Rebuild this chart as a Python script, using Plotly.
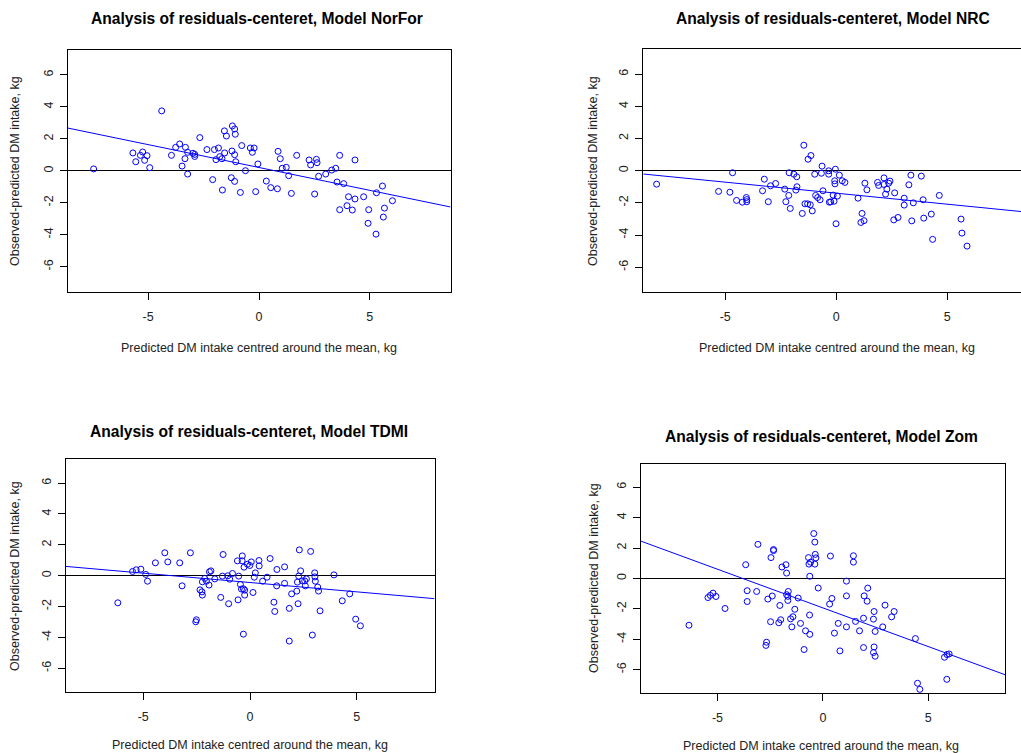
import plotly.graph_objects as go

# ---------------- data ----------------
titles = ["Analysis of residuals-centeret, Model NorFor",
          "Analysis of residuals-centeret, Model NRC",
          "Analysis of residuals-centeret, Model TDMI",
          "Analysis of residuals-centeret, Model Zom"]
x_label = "Predicted DM intake centred around the mean, kg"
y_label = "Observed-predicted DM intake, kg"

x_ticks = [-5, 0, 5]
x_tick_text = ["-5", "0", "5"]
y_ticks = [-6, -4, -2, 0, 2, 4, 6]
y_tick_text = ["-6", "-4", "-2", "0", "2", "4", "6"]

x_norfor = [-7.46, -4.39, -5.69, -5.56, -5.35, -5.25, -5.16, -5.05, -4.93, -3.95, -3.76, -3.58,
            -3.32, -3.47, -3.34, -3.22, -3.22, -2.98, -2.90, -2.90, -2.67, -2.35, -2.01, -1.83,
            -1.94, -1.77, -1.67, -1.55, -2.09, -1.65, -1.56, -1.47, -1.20, -1.10, -1.07, -1.22,
            -1.10, -1.05, -1.25, -1.10, -0.84, -0.78, -0.61, -0.39, -0.22, -0.30, -0.05, -0.15,
            0.86, 0.96, 1.05, 1.23, 1.34, 1.70, 0.33, 0.53, 0.83, 1.46, 2.26, 2.33, 2.59, 2.62,
            2.51, 2.69, 3.01, 3.28, 3.46, 3.64, 3.52, 3.82, 4.33, 4.04, 4.33, 4.72, 3.64, 3.97,
            4.21, 4.95, 4.92, 5.28, 5.30, 5.57, 6.02, 5.66, 5.61]
y_norfor = [0.12, 3.75, 1.12, 0.57, 0.97, 1.18, 0.66, 0.95, 0.20, 0.97, 1.47, 1.68,
            1.47, 0.30, 0.76, 1.16, -0.20, 1.10, 1.03, 0.90, 2.08, 1.33, 1.33, 1.43,
            0.70, 0.89, 0.76, 1.12, -0.55, -1.20, 2.50, 2.18, 2.81, 2.62, 2.29, 1.24,
            1.01, 0.57, -0.43, -0.66, -1.35, 1.58, 0.01, 1.43, 1.43, 1.16, 0.43, -1.30,
            1.22, 0.76, 0.16, 0.22, -0.30, 0.97, -0.64, -1.05, -1.12, -1.41, 0.68, 0.37, 0.72, 0.51,
            -1.45, -0.34, -0.20, 0.05, 0.16, 0.97, -0.70, -0.80, 0.68, -1.62, -1.76, -1.62, -2.43, -2.18,
            -2.45, -2.43, -3.28, -3.96, -1.37, -0.95, -1.87, -2.33, -2.89]

x_nrc = [-8.09, -4.67, -5.30, -4.79, -4.49, -4.23, -4.05, -4.03, -4.03, -3.24, -3.32, -3.06,
         -2.96, -2.73, -2.32, -2.27, -2.14, -2.07, -2.12, -1.91, -1.78, -1.82, -1.77, -1.53,
         -1.46, -1.27, -1.14, -1.41, -1.29, -1.17, -1.08, -0.97, -0.93, -0.84, -0.73, -0.64,
         -0.67, -0.60, -0.34, -0.34, -0.31, -0.25, -0.14, -0.07, -0.06, -0.04, -0.10, -0.01,
         0.05, 0.14, 0.27, 0.39, 0.98, 1.29, 1.38, 1.16, 1.11, 1.25, 1.86, 1.91, 2.15, 2.15,
         2.22, 2.28, 2.36, 2.42, 2.63, 2.59, 2.78, 3.06, 3.06, 3.27, 3.36, 3.47, 3.40, 3.83,
         3.91, 3.94, 4.28, 4.34, 4.64, 5.62, 5.66, 5.89]
y_nrc = [-0.84, -0.13, -1.29, -1.34, -1.85, -1.96, -1.67, -1.80, -1.93, -0.53, -1.25, -1.93,
         -0.94, -0.80, -1.15, -1.93, -1.54, -2.35, -0.13, -0.22, -0.38, -1.21, -1.00, -2.66,
         1.58, 0.71, 0.94, -2.06, -2.06, -2.12, -2.50, -0.22, -1.54, -1.67, -1.81, 0.28,
         -0.16, -1.25, -0.01, -0.22, -1.96, -1.94, -1.52, -0.63, -0.82, 0.09, -1.90, -3.30,
         -1.58, -0.28, -0.63, -0.73, -1.71, -0.78, -1.19, -2.66, -3.22, -3.11, -0.73, -0.92, -0.45, -0.86,
         -1.46, -1.15, -0.78, -0.65, -1.38, -3.06, -2.91, -1.71, -2.14, -0.88, -0.28, -2.00, -3.12, -0.34,
         -1.81, -2.95, -2.70, -4.27, -1.54, -3.01, -3.88, -4.69]

x_tdmi = [-6.19, -5.50, -5.33, -5.11, -4.88, -4.80, -4.43, -3.99, -3.85, -3.29, -3.18, -2.79,
          -2.54, -2.51, -2.34, -2.25, -2.23, -2.23, -2.12, -2.04, -1.92, -1.90, -1.83, -1.65,
          -1.37, -1.26, -1.29, -1.04, -0.95, -0.82, -1.00, -0.56, -0.59, -0.53, -0.45, -0.40,
          -0.36, -0.37, -0.28, -0.31, -0.25, -0.25, -0.31, -0.12, -0.01, 0.06, 0.14, 0.20,
          0.25, 0.42, 0.43, 0.59, 0.80, 0.94, 1.12, 1.16, 1.25, 1.26, 1.62, 1.62, 1.84, 1.84,
          1.95, 2.19, 2.22, 2.25, 2.28, 2.31, 2.37, 2.45, 2.56, 2.59, 2.64, 2.84, 2.92, 3.03,
          3.04, 3.06, 3.17, 3.21, 3.28, 3.93, 4.32, 4.67, 4.95, 5.17]
y_tdmi = [-1.76, 0.27, 0.38, 0.42, 0.08, -0.36, 0.83, 1.48, 0.89, 0.83, -0.66, 1.48,
          -2.99, -2.86, -0.92, -1.05, -1.26, -0.40, -0.18, -0.36, -0.61, 0.25, 0.31, -0.21,
          -1.41, 1.37, -0.03, -0.01, -0.23, 0.14, -1.82, -1.57, 0.96, -0.03, -0.57, -0.87,
          1.28, 0.96, 0.55, -0.85, -0.94, -1.26, -3.79, 0.74, 0.66, 0.89, -1.09, -0.10,
          0.18, 0.98, 0.63, -0.36, -0.10, 1.11, -1.72, -2.32, -0.66, 0.40, 0.57, -0.50, -2.12, -4.24,
          -1.18, -1.00, -0.42, -1.82, -0.03, 1.67, 0.31, -0.34, -0.34, -0.66, -0.21, 1.57, -3.85, 0.18,
          -0.08, -0.36, -0.74, -1.00, -2.28, 0.05, -1.63, -1.18, -2.82, -3.25]

x_zom = [-6.35, -5.45, -5.34, -5.21, -5.07, -4.64, -3.66, -3.59, -3.59, -3.14, -3.08, -2.61,
         -2.48, -2.70, -2.67, -2.46, -2.34, -2.34, -2.40, -2.09, -2.04, -2.00, -1.94, -1.75,
         -1.72, -1.72, -1.66, -1.64, -1.66, -1.53, -1.47, -1.42, -1.33, -1.17, -1.06, -0.89,
         -0.82, -0.63, -0.62, -0.68, -0.66, -0.58, -0.62, -0.43, -0.38, -0.36, -0.33, -0.38,
         -0.22, 0.36, 0.43, 0.32, 0.73, 0.55, 0.81, 1.12, 1.12, 1.12, 1.45, 1.45, 1.55, 1.74,
         1.93, 1.93, 1.96, 2.10, 2.13, 2.40, 2.43, 2.43, 2.40, 2.48, 2.48, 2.84, 2.95, 3.26,
         3.38, 4.39, 4.49, 4.60, 5.77, 5.89, 5.99, 5.88]
y_zom = [-3.08, -1.26, -1.12, -0.97, -1.19, -1.98, 0.90, -0.81, -1.52, -0.86, 2.24, -1.36,
         -2.85, -4.41, -4.20, 1.37, 1.90, 1.83, -1.16, -2.92, -1.78, -2.72, 0.75, 0.90,
         0.35, -1.07, -1.18, -0.86, -1.45, -2.66, -3.19, -2.52, -2.03, -1.29, -2.96, -4.68,
         -3.45, -2.41, -3.68, 1.37, 0.94, 1.07, 0.14, 2.95, 2.39, 1.58, 1.35, 0.94,
         -0.63, 1.47, -1.32, -1.69, -2.96, -3.60, -4.77, -0.18, -1.15, -3.19, 1.49, 1.07, -2.83, -3.45,
         -2.62, -4.55, -1.15, -1.50, -0.64, -2.68, -2.18, -4.51, -4.88, -5.12, -3.49, -3.19, -1.76, -2.53,
         -2.18, -3.96, -6.90, -7.30, -5.19, -5.01, -4.97, -6.64]

# regression lines: intercept, slope
fit_intercept = [0.21, -1.40, -0.445, -1.94]
fit_slope = [-0.286, -0.137, -0.121, -0.509]

xs = [x_norfor, x_nrc, x_tdmi, x_zom]
ys = [y_norfor, y_nrc, y_tdmi, y_zom]

# ---------------- layout geometry (pixels) ----------------
W, H = 1021, 753
# left, right, top, bottom of each plot box, and x-range
boxes = [(67.5, 450.5, 50.0, 291.7, (-8.64, 8.64)),
         (643.3, 1021.0, 49.0, 292.3, (-8.69, 8.32)),
         (65.5, 434.5, 459.0, 692.3, (-8.64, 8.64)),
         (640.7, 1005.0, 463.5, 693.3, (-8.64, 8.64))]
y_range = (-7.56, 7.56)
title_pos = [(257, 19), (833, 19), (249, 431), (821, 436)]
xlab_pos = [(259, 348), (837, 348), (250, 745), (821, 746)]
ylab_pos = [(15, 171), (593, 171), (15, 576), (594, 578)]

FONT = "Liberation Sans, Arial, sans-serif"
BLUE = "#0000FF"

fig = go.Figure()
layout = dict(width=W, height=H, margin=dict(l=0, r=0, t=0, b=0),
              paper_bgcolor="white", plot_bgcolor="white", showlegend=False,
              font=dict(family=FONT, size=12, color="black"))
annotations = []

for i in range(4):
    left, right, top, bottom, xr = boxes[i]
    k = "" if i == 0 else str(i + 1)
    xa, ya = "x" + k, "y" + k
    fig.add_trace(go.Scatter(x=xs[i], y=ys[i], mode="markers", xaxis=xa, yaxis=ya,
                             marker=dict(symbol="circle-open", size=6, color=BLUE,
                                         line=dict(width=1, color=BLUE)),
                             hoverinfo="skip"))
    lx = [xr[0], xr[1]]
    ly = [fit_intercept[i] + fit_slope[i] * v for v in lx]
    fig.add_trace(go.Scatter(x=lx, y=ly, mode="lines", xaxis=xa, yaxis=ya,
                             line=dict(color=BLUE, width=1), hoverinfo="skip"))
    layout["xaxis" + k] = dict(domain=[left / W, right / W], range=list(xr), anchor=ya,
                               showgrid=False, zeroline=False, showline=True,
                               linecolor="black", linewidth=1, mirror=True,
                               ticks="outside", ticklen=7, tickwidth=1, tickcolor="black",
                               tickvals=x_ticks, ticktext=x_tick_text,
                               ticklabelstandoff=6,
                               tickfont=dict(family=FONT, size=12.5, color="#222"))
    layout["yaxis" + k] = dict(domain=[1 - bottom / H, 1 - top / H], range=list(y_range),
                               anchor=xa, showgrid=False, zeroline=True,
                               zerolinecolor="black", zerolinewidth=1, showline=True,
                               linecolor="black", linewidth=1, mirror=(i != 1),
                               ticks="outside", ticklen=7, tickwidth=1, tickcolor="black",
                               tickvals=y_ticks, ticktext=y_tick_text, tickangle=-90,
                               ticklabelstandoff=2,
                               tickfont=dict(family=FONT, size=12.5, color="#222"))
    annotations.append(dict(text="<b>" + titles[i] + "</b>", x=title_pos[i][0] / W,
                            y=1 - title_pos[i][1] / H, xref="paper", yref="paper",
                            showarrow=False, xanchor="center", yanchor="middle",
                            font=dict(family=FONT, size=15.6, color="black")))
    annotations.append(dict(text=x_label, x=xlab_pos[i][0] / W, y=1 - xlab_pos[i][1] / H,
                            xref="paper", yref="paper", showarrow=False,
                            xanchor="center", yanchor="middle",
                            font=dict(family=FONT, size=12.5, color="#222")))
    annotations.append(dict(text=y_label, x=ylab_pos[i][0] / W, y=1 - ylab_pos[i][1] / H,
                            xref="paper", yref="paper", showarrow=False, textangle=-90,
                            xanchor="center", yanchor="middle",
                            font=dict(family=FONT, size=12.5, color="#222")))

layout["annotations"] = annotations
fig.update_layout(**layout)
fig.write_html("out.html", config={"displayModeBar": False},
               post_script="document.body.style.margin='0';document.body.style.padding='0';")
